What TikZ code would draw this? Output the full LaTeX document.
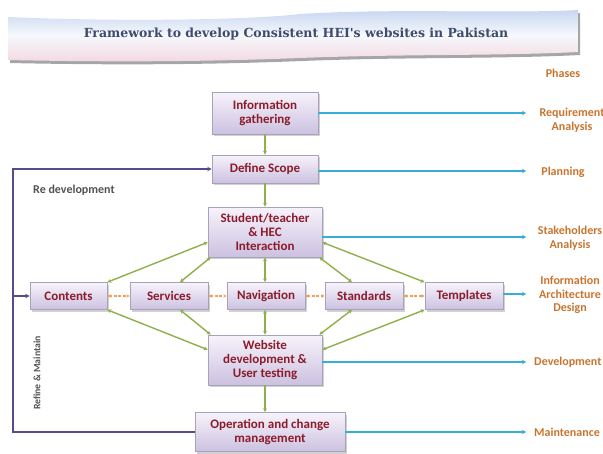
\documentclass[tikz,border=0pt]{standalone}
\usepackage{fontspec}
\setmainfont{Carlito}
\newfontfamily\titlefont{DejaVu Serif}
\usetikzlibrary{arrows.meta,shadows,calc}
\definecolor{boxtext}{HTML}{8B1C2C}
\definecolor{boxtop}{HTML}{F7F3FB}
\definecolor{boxbot}{HTML}{CCC1E0}
\definecolor{boxline}{HTML}{A9A1BA}
\definecolor{gline}{HTML}{8DB04A}
\definecolor{oline}{HTML}{F2A055}
\definecolor{bline}{HTML}{35AED8}
\definecolor{pline}{HTML}{5B4A8A}
\definecolor{phasec}{HTML}{C8742F}
\definecolor{titlec}{HTML}{3D4C6C}
\definecolor{bannertop}{HTML}{C4D4EF}
\definecolor{bannerbot}{HTML}{F3D9E2}
\tikzset{
  stepbox/.style={draw=boxline, line width=0.6pt, top color=boxtop, bottom color=boxbot,
    drop shadow={shadow xshift=1.5pt, shadow yshift=-2pt, fill=gray!45, opacity=0.8},
    font=\bfseries\fontsize{13}{14}\selectfont, text=boxtext, align=center, inner sep=0pt},
  garrow/.style={draw=gline, line width=1.4pt, {Stealth[length=4pt,width=4pt]}-{Stealth[length=4pt,width=4pt]}},
  gdown/.style={draw=gline, line width=1.4pt, -{Stealth[length=4pt,width=4pt]}},
  oarrow/.style={draw=oline, line width=1.4pt, dashed, dash pattern=on 3pt off 1.5pt, {Stealth[length=3.5pt,width=3.5pt]}-{Stealth[length=3.5pt,width=3.5pt]}},
  barrow/.style={draw=bline, line width=2pt, -{Stealth[length=4pt,width=4.5pt]}},
  parrow/.style={draw=pline, line width=1.6pt, -{Stealth[length=4.5pt,width=4.5pt]}},
  phase/.style={font=\bfseries\fontsize{12}{13.5}\selectfont, text=phasec, align=center, inner sep=0pt},
  note/.style={font=\bfseries\fontsize{12}{13}\selectfont, text=black!68, inner sep=0pt},
}
\begin{document}
\begin{tikzpicture}[x=1pt,y=-1pt]
\useasboundingbox (0,0) rectangle (603,453);
% banner
\fill[gray!70, shift={(2,3)}] (8,17) .. controls (120,22) and (250,20) .. (300,14) .. controls (400,8) and (500,14) .. (578,10) -- (578,52) .. controls (500,56) and (400,54) .. (300,58) .. controls (200,62) and (100,62) .. (8,60) -- cycle;
\shade[top color=bannertop, bottom color=bannerbot, middle color=white!85!bannertop] (8,17) .. controls (120,22) and (250,20) .. (300,14) .. controls (400,8) and (500,14) .. (578,10) -- (578,52) .. controls (500,56) and (400,54) .. (300,58) .. controls (200,62) and (100,62) .. (8,60) -- cycle;
\node[font=\titlefont\bfseries\fontsize{12.5}{14}\selectfont, text=titlec] (title) at (296,34) {Framework to develop Consistent HEI's websites in Pakistan};

% boxes
\node[stepbox, minimum width=106pt, minimum height=42pt] (info) at (265,113) {Information\\gathering};
\node[stepbox, minimum width=106pt, minimum height=28pt] (scope) at (265,169) {Define Scope};
\node[stepbox, minimum width=114pt, minimum height=50pt] (stud) at (265,232) {Student/teacher\\\& HEC\\Interaction};
\node[stepbox, minimum width=77pt, minimum height=27pt] (cont) at (68.5,296) {Contents};
\node[stepbox, minimum width=78pt, minimum height=27pt] (serv) at (169,296) {Services};
\node[stepbox, minimum width=78pt, minimum height=27pt] (nav) at (266,296) {Navigation};
\node[stepbox, minimum width=78pt, minimum height=27pt] (stand) at (364,296) {Standards};
\node[stepbox, minimum width=78pt, minimum height=27pt] (templ) at (464,296) {Templates};
\node[stepbox, minimum width=114pt, minimum height=50pt] (web) at (265,360) {Website\\development \&\\User testing};
\node[stepbox, minimum width=150pt, minimum height=39pt] (op) at (270,432) {Operation and change\\management};

% phases
\node[phase] (phases) at (563,73) {Phases};
\node[phase] (ph1) at (572,120) {Requirement\\Analysis};
\node[phase] (ph2) at (563,172) {Planning};
\node[phase] (ph3) at (570,238) {Stakeholders\\Analysis};
\node[phase] (ph4) at (570,295) {Information\\Architecture\\Design};
\node[phase, anchor=west] (ph5) at (534,362) {Development};
\node[phase, anchor=west] (ph6) at (534,432) {Maintenance};
\coordinate (px) at (526,0);

% blue lines
\draw[barrow] (info.east) -- (info.east -| px);
\draw[barrow] ($(scope.east)+(0,2)$) -- ($(scope.east -| px)+(0,2)$);
\draw[barrow] ($(stud.east)+(0,5)$) -- ($(stud.east -| px)+(0,5)$);
\draw[barrow] ($(templ.east)+(0,-2)$) -- ($(templ.east -| px)+(0,-2)$);
\draw[barrow] ($(web.east)+(0,2)$) -- ($(web.east -| px)+(0,2)$);
\draw[barrow] (op.east) -- (op.east -| px);

% green vertical
\draw[gdown] (info.south) -- (info.south |- scope.north);
\draw[gdown] (scope.south) -- (scope.south |- stud.north);
\draw[gdown] (web.south) -- (web.south |- op.north);
\draw[garrow] (stud.south) -- (stud.south |- nav.north);
\draw[garrow] (nav.south -| web.north) -- (web.north);

% green diagonals top
\draw[garrow] (cont.north east) -- ($(stud.south west)+(0,-15)$);
\draw[garrow] ($(serv.north)+(11,0)$) -- ($(stud.south west)+(3,0)$);
\draw[garrow] ($(stand.north)+(-12,0)$) -- ($(stud.south east)+(-3,0)$);
\draw[garrow] (templ.north west) -- ($(stud.south east)+(0,-15)$);
% green diagonals bottom
\draw[garrow] (cont.south east) -- ($(web.north west)+(0,15)$);
\draw[garrow] ($(serv.south)+(11,0)$) -- ($(web.north west)+(3,0)$);
\draw[garrow] ($(stand.south)+(-12,0)$) -- ($(web.north east)+(-3,0)$);
\draw[garrow] (templ.south west) -- ($(web.north east)+(0,15)$);

% orange dashed
\draw[oarrow] (cont.east) -- (serv.west);
\draw[oarrow] (serv.east) -- (nav.west);
\draw[oarrow] (nav.east) -- (stand.west);
\draw[oarrow] (stand.east) -- (templ.west);

% purple feedback
\coordinate (lx) at (13,0);
\draw[parrow] (op.west) -- (op.west -| lx) |- (scope.west);
\draw[parrow] (cont.west -| lx) -- (cont.west);
\node[note, anchor=west] (redev) at (33,190) {Re development};
\node[note, font=\bfseries\fontsize{9.8}{12}\selectfont, rotate=90] (refine) at (37,373) {Refine \& Maintain};
\end{tikzpicture}
\end{document}
